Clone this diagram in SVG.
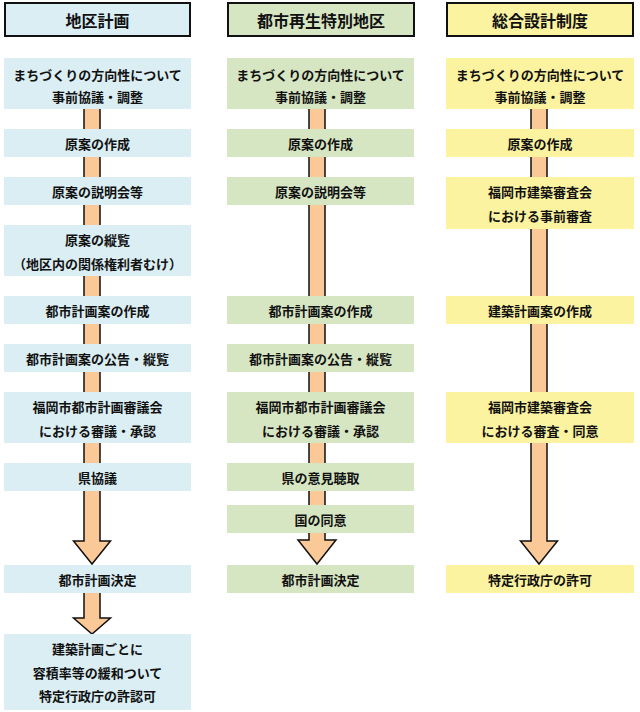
<svg xmlns="http://www.w3.org/2000/svg" width="640" height="712" viewBox="0 0 640 712">
<style>
text{font-family:"Noto Sans CJK JP","Noto Sans CJK SC",sans-serif;font-weight:bold;fill:#111;text-anchor:middle;dominant-baseline:central}
.h{font-size:16px}
.t{font-size:13px}
.hd{stroke:#111;stroke-width:2}
.b{fill:#daeef3}.g{fill:#d7e6c2}.y{fill:#fcf3a0}
.arr{fill:#fbc998;stroke:#111;stroke-width:1.5;stroke-linejoin:miter}
</style>
<rect width="640" height="712" fill="#fff"/>
<g id="connectors">
<polygon class="arr" points="84,105 100,105 100,541 110.5,541 92,564 73.5,541 84,541"/>
<polygon class="arr" points="84,590 100,590 100,618 110.5,618 92,634 73.5,618 84,618"/>
<polygon class="arr" points="309,105 325,105 325,540 336,540 317,564 298,540 309,540"/>
<polygon class="arr" points="531,105 547,105 547,541 557.5,541 539,564 520.5,541 531,541"/>
</g>
<g id="h1"><rect class="hd b" x="5" y="3" width="185" height="33"/><text class="h" x="97.5" y="19.5">地区計画</text></g>
<g id="h2"><rect class="hd g" x="228" y="3" width="186" height="33"/><text class="h" x="321" y="19.5">都市再生特別地区</text></g>
<g id="h3"><rect class="hd y" x="447" y="3" width="186" height="33"/><text class="h" x="540" y="19.5">総合設計制度</text></g>

<g id="c1n1"><rect class="b" x="4" y="58" width="187" height="51"/><text class="t" x="97.5" y="74">まちづくりの方向性について</text><text class="t" x="97.5" y="96.5">事前協議・調整</text></g>
<g id="c1n2"><rect class="b" x="4" y="129" width="187" height="28"/><text class="t" x="97.5" y="143">原案の作成</text></g>
<g id="c1n3"><rect class="b" x="4" y="177" width="187" height="28"/><text class="t" x="97.5" y="191">原案の説明会等</text></g>
<g id="c1n4"><rect class="b" x="4" y="225" width="187" height="51"/><text class="t" x="97.5" y="239.5">原案の縦覧</text><text class="t" x="97.5" y="263">（地区内の関係権利者むけ）</text></g>
<g id="c1n5"><rect class="b" x="4" y="296" width="187" height="28"/><text class="t" x="97.5" y="310">都市計画案の作成</text></g>
<g id="c1n6"><rect class="b" x="4" y="344" width="187" height="28"/><text class="t" x="97.5" y="358">都市計画案の公告・縦覧</text></g>
<g id="c1n7"><rect class="b" x="4" y="392" width="187" height="51"/><text class="t" x="97.5" y="406.5">福岡市都市計画審議会</text><text class="t" x="97.5" y="430">における審議・承認</text></g>
<g id="c1n8"><rect class="b" x="4" y="463" width="187" height="28"/><text class="t" x="97.5" y="477">県協議</text></g>
<g id="c1n9"><rect class="b" x="4" y="565" width="187" height="28"/><text class="t" x="97.5" y="579">都市計画決定</text></g>
<g id="c1n10"><rect class="b" x="4" y="634" width="187" height="76"/><text class="t" x="97.5" y="648.5">建築計画ごとに</text><text class="t" x="97.5" y="672">容積率等の緩和ついて</text><text class="t" x="97.5" y="695">特定行政庁の許認可</text></g>

<g id="c2n1"><rect class="g" x="227" y="58" width="187" height="51"/><text class="t" x="320.5" y="74">まちづくりの方向性について</text><text class="t" x="320.5" y="96.5">事前協議・調整</text></g>
<g id="c2n2"><rect class="g" x="227" y="129" width="187" height="28"/><text class="t" x="320.5" y="143">原案の作成</text></g>
<g id="c2n3"><rect class="g" x="227" y="177" width="187" height="28"/><text class="t" x="320.5" y="191">原案の説明会等</text></g>
<g id="c2n4"><rect class="g" x="227" y="296" width="187" height="28"/><text class="t" x="320.5" y="310">都市計画案の作成</text></g>
<g id="c2n5"><rect class="g" x="227" y="344" width="187" height="28"/><text class="t" x="320.5" y="358">都市計画案の公告・縦覧</text></g>
<g id="c2n6"><rect class="g" x="227" y="392" width="187" height="51"/><text class="t" x="320.5" y="406.5">福岡市都市計画審議会</text><text class="t" x="320.5" y="430">における審議・承認</text></g>
<g id="c2n7"><rect class="g" x="227" y="463" width="187" height="28"/><text class="t" x="320.5" y="477">県の意見聴取</text></g>
<g id="c2n8"><rect class="g" x="227" y="505" width="187" height="28"/><text class="t" x="320.5" y="519">国の同意</text></g>
<g id="c2n9"><rect class="g" x="227" y="565" width="187" height="28"/><text class="t" x="320.5" y="579">都市計画決定</text></g>

<g id="c3n1"><rect class="y" x="446" y="58" width="188" height="51"/><text class="t" x="540" y="74">まちづくりの方向性について</text><text class="t" x="540" y="96.5">事前協議・調整</text></g>
<g id="c3n2"><rect class="y" x="446" y="129" width="188" height="28"/><text class="t" x="540" y="143">原案の作成</text></g>
<g id="c3n3"><rect class="y" x="446" y="177" width="188" height="52"/><text class="t" x="540" y="191.5">福岡市建築審査会</text><text class="t" x="540" y="215">における事前審査</text></g>
<g id="c3n4"><rect class="y" x="446" y="296" width="188" height="28"/><text class="t" x="540" y="310">建築計画案の作成</text></g>
<g id="c3n5"><rect class="y" x="446" y="392" width="188" height="51"/><text class="t" x="540" y="406.5">福岡市建築審査会</text><text class="t" x="540" y="430">における審査・同意</text></g>
<g id="c3n6"><rect class="y" x="446" y="565" width="188" height="28"/><text class="t" x="540" y="579">特定行政庁の許可</text></g>
</svg>
